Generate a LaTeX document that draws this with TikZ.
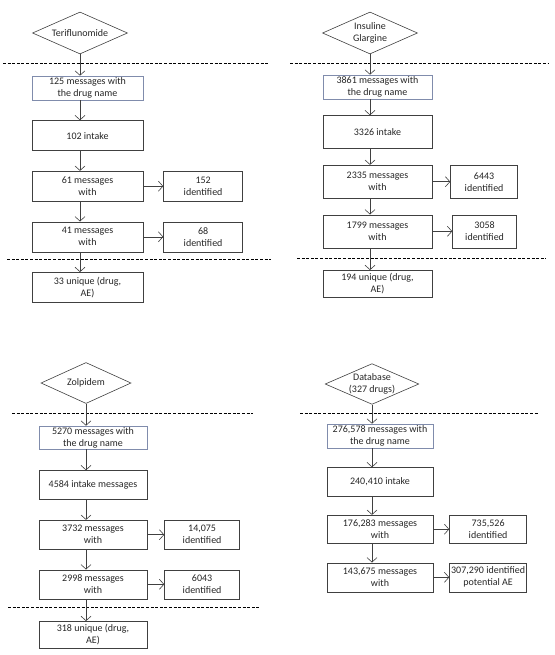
\documentclass[tikz,border=0pt]{standalone}
\usepackage{fontspec}
\setmainfont{Carlito}
\usetikzlibrary{positioning,shapes.geometric,arrows.meta}
\definecolor{firstedge}{RGB}{128,140,172}

\begin{document}
\begin{tikzpicture}
% Style
[
    x=1pt, y=-1pt, node distance=20pt, font=\fontsize{10}{12}\selectfont, text=black!85,
    line/.style={draw=black!75, line width=.6pt},
    stepbox/.style={
        line, align=center, shape=rectangle, minimum width=111pt, minimum height=30pt, inner sep=1pt
    },
    firstbox/.style={stepbox, draw=firstedge, minimum height=24pt},
    sidebox/.style={stepbox, minimum width=79pt},
    drugnode/.style={
        line, align=center, shape=diamond, aspect=2.3, minimum width=95pt, minimum height=42pt, inner sep=0pt
    },
    cut/.style={draw=black, line width=.8pt, dash pattern=on 3pt off 1.6pt},
    flow/.style={line, -{Straight Barb[length=4.5pt, width=10pt]}},
]
\useasboundingbox (0,0) rectangle (554,655);

%=================================== Start ===================================
% Teriflunomide
{
    \node[drugnode] (drug-a) at (80,33) {Teriflunomide};
    \node[firstbox] (box-a-1) at (87.5,88) {125 messages with\\the drug name};
    \node[stepbox, below=of box-a-1] (box-a-2) {102 intake};
    \node[stepbox, below=of box-a-2] (box-a-3) {61 messages\\with};
    \node[stepbox, below=of box-a-3] (box-a-4) {41 messages\\with};
    \node[stepbox, below=of box-a-4] (box-a-5) {33 unique (drug,\\AE)};
    \node[sidebox, right=of box-a-3] (side-a-3) {152\\identified};
    \node[sidebox, right=of box-a-4] (side-a-4) {68\\identified};
    \draw[cut] (3,63) -- (269,63);
    \draw[cut] (7,259) -- (271,259);
}

% Insuline Glargine
\begin{scope}[node distance=16pt, stepbox/.append style={minimum width=109pt, minimum height=33pt}]
{
    \node[drugnode] (drug-b) at (370,33) {Insuline\\Glargine};
    \node[firstbox, minimum height=24pt] (box-b-1) at (377.5,87) {3861 messages with\\the drug name};
    \node[stepbox, below=of box-b-1] (box-b-2) {3326 intake};
    \node[stepbox, below=of box-b-2] (box-b-3) {2335 messages\\with};
    \node[stepbox, below=of box-b-3] (box-b-4) {1799 messages\\with};
    \node[stepbox, below=22pt of box-b-4, minimum height=27pt] (box-b-5) {194 unique (drug,\\AE)};
    \node[sidebox, right=18pt of box-b-3, minimum width=67pt] (side-b-3) {6443\\identified};
    \node[sidebox, right=20pt of box-b-4, minimum width=64pt] (side-b-4) {3058\\identified};
    \draw[cut] (290,63) -- (549,63);
    \draw[cut] (297,258) -- (546,258);
}
\end{scope}

% Zolpidem
\begin{scope}[stepbox/.append style={minimum width=108pt, minimum height=29pt}]
{
    \node[drugnode, minimum width=90pt, minimum height=41pt] (drug-c) at (86,383) {Zolpidem};
    \node[firstbox, minimum height=23pt] (box-c-1) at (93,437.5) {5270 messages with\\the drug name};
    \node[stepbox, below=21pt of box-c-1] (box-c-2) {4584 intake messages};
    \node[stepbox, below=of box-c-2] (box-c-3) {3732 messages\\with};
    \node[stepbox, below=of box-c-3] (box-c-4) {2998 messages\\with};
    \node[stepbox, below=22pt of box-c-4, minimum height=27pt] (box-c-5) {318 unique (drug,\\AE)};
    \node[sidebox, right=17pt of box-c-3, minimum width=75pt] (side-c-3) {14,075\\identified};
    \node[sidebox, right=17pt of box-c-4, minimum width=75pt] (side-c-4) {6043\\identified};
    \draw[cut] (12,413) -- (253,413);
    \draw[cut] (8,607) -- (259,607);
}
\end{scope}

% Database
\begin{scope}[node distance=19pt, stepbox/.append style={minimum width=106pt, minimum height=29pt}]
{
    \node[drugnode, minimum width=90pt, minimum height=40pt] (drug-d) at (372,384) {Database\\(327 drugs)};
    \node[firstbox] (box-d-1) at (380,436) {276,578 messages with\\the drug name};
    \node[stepbox, below=of box-d-1] (box-d-2) {240,410 intake};
    \node[stepbox, below=18pt of box-d-2, minimum height=28pt] (box-d-3) {176,283 messages\\with};
    \node[stepbox, below=of box-d-3] (box-d-4) {143,675 messages\\with};
    \node[sidebox, right=16pt of box-d-3, minimum width=77pt, minimum height=28pt] (side-d-3) {735,526\\identified};
    \node[sidebox, right=16pt of box-d-4, minimum width=77pt] (side-d-4) {307,290 identified\\potential AE};
    \draw[cut] (300,413) -- (539,413);
}
\end{scope}

% Arrows
\foreach \p/\n in {a/5, b/5, c/5, d/4} {
    \draw[flow] (drug-\p.south) -- (drug-\p.south |- box-\p-1.north);
    \foreach \i [evaluate={\h=int(\i-1)}] in {2,...,\n} {
        \draw[flow] (box-\p-\h.south -| drug-\p.south) -- (box-\p-\i.north -| drug-\p.south);
    }
    \foreach \i in {3,4} {
        \draw[flow] (box-\p-\i.east) -- (side-\p-\i.west |- box-\p-\i.east);
    }
}
%==================================== END ====================================

\end{tikzpicture}
\end{document}
